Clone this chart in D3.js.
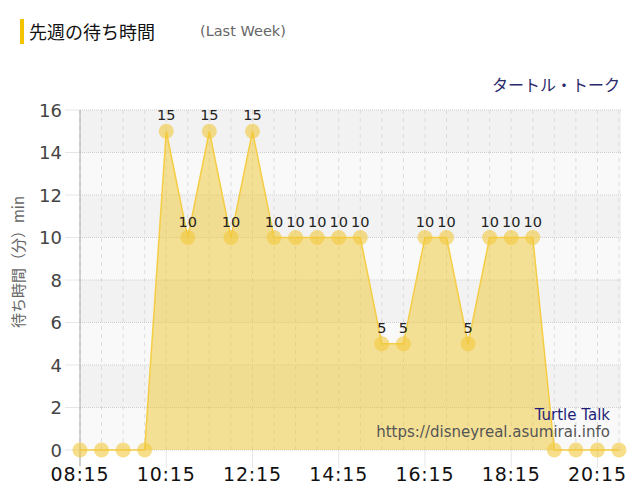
<!DOCTYPE html>
<html><head><meta charset="utf-8">
<script src="https://cdn.jsdelivr.net/npm/d3@7"></script>
<style>body{margin:0;background:#fff}svg{display:block}</style>
</head><body>
<svg id="c" width="640" height="500"></svg>
<script>
const times = ["08:15","08:45","09:15","09:45","10:15","10:45","11:15","11:45","12:15","12:45","13:15","13:45","14:15","14:45","15:15","15:45","16:15","16:45","17:15","17:45","18:15","18:45","19:15","19:45","20:15","20:45"];
const waits = [0,0,0,0,15,10,15,10,15,10,10,10,10,10,5,5,10,10,5,10,10,10,0,0,0,0];
const xTickLabels = ["08:15","10:15","12:15","14:15","16:15","18:15","20:15"];
const yTicks = [0,2,4,6,8,10,12,14,16];
const title = "先週の待ち時間";
const subtitle = "(Last Week)";
const attraction = "タートル・トーク";
const attractionEn = "Turtle Talk";
const site = "https://disneyreal.asumirai.info";
const yTitle = "待ち時間（分）min";

const toMin = t => { const [h,m] = t.split(":").map(Number); return h*60+m; };
const svg = d3.select("#c");
const L = 80, R = 619, T = 110, B = 450;
const x = d3.scaleLinear().domain([toMin(times[0]), toMin(times[times.length-1])]).range([L, R]);
const y = d3.scaleLinear().domain([0,16]).range([B, T]);

// bands
const g = svg.append("g");
for (let i = 0; i < yTicks.length-1; i++) {
  const v0 = yTicks[i], v1 = yTicks[i+1];
  g.append("rect").attr("x", L).attr("width", R + 2 - L)
    .attr("y", y(v1)).attr("height", y(v0) - y(v1))
    .attr("fill", (i % 2 === 0) ? "#f9f9f9" : "#f2f2f2");
}
// vertical minor dashed
g.selectAll(".vm").data(times).enter().append("line")
  .attr("x1", d => x(toMin(d))).attr("x2", d => x(toMin(d)))
  .attr("y1", T).attr("y2", B)
  .attr("stroke", "#dcdcdc").attr("stroke-dasharray", "4,4");
// major x ticks
g.selectAll(".vM").data(xTickLabels).enter().append("line")
  .attr("x1", d => x(toMin(d))).attr("x2", d => x(toMin(d)))
  .attr("y1", B).attr("y2", B + 18)
  .attr("stroke", "#e6e6e6");
// horizontal grid
g.selectAll(".h").data(yTicks).enter().append("line")
  .attr("x1", L).attr("x2", R + 2)
  .attr("y1", d => y(d)).attr("y2", d => y(d))
  .attr("stroke", "#cfcfcf").attr("stroke-dasharray", "1,1");
g.selectAll(".ht").data(yTicks).enter().append("line")
  .attr("x1", L - 15).attr("x2", L)
  .attr("y1", d => y(d)).attr("y2", d => y(d))
  .attr("stroke", "#e6e6e6");
// y axis line
g.append("line").attr("x1", L).attr("x2", L).attr("y1", T).attr("y2", B + 16)
  .attr("stroke", "#aaa");

const data = times.map((t, i) => ({t: toMin(t), v: waits[i]}));
svg.append("path").datum(data)
  .attr("d", d3.area().x(d => x(d.t)).y0(B).y1(d => y(d.v)))
  .attr("fill", "rgba(240,200,50,0.5)");
svg.append("path").datum(data)
  .attr("d", d3.line().x(d => x(d.t)).y(d => y(d.v)))
  .attr("fill", "none").attr("stroke", "#f5cd45").attr("stroke-width", 1.5);
svg.selectAll(".pt").data(data).enter().append("circle")
  .attr("cx", d => x(d.t)).attr("cy", d => y(d.v)).attr("r", 7.5)
  .attr("fill", "rgba(242,200,60,0.6)");
svg.selectAll(".lbl").data(data.filter(d => d.v > 0)).enter().append("text")
  .attr("x", d => x(d.t)).attr("y", d => y(d.v) - 11)
  .attr("text-anchor", "middle").attr("font-family", "DejaVu Sans, sans-serif")
  .attr("font-size", 14.5).attr("fill", "#222").text(d => d.v);

// y labels
svg.selectAll(".yl").data(yTicks).enter().append("text")
  .attr("x", 62).attr("y", d => y(d) + 6.5).attr("text-anchor", "end")
  .attr("font-family", "DejaVu Sans, sans-serif").attr("font-size", 18)
  .attr("fill", "#444").text(d => d);
// x labels
svg.selectAll(".xl").data(xTickLabels).enter().append("text")
  .attr("x", d => x(toMin(d))).attr("y", 481).attr("text-anchor", "middle")
  .attr("font-family", "DejaVu Sans, sans-serif").attr("font-size", 19)
  .attr("letter-spacing", 0.8)
  .attr("fill", "#111").text(d => d);

// y title
svg.append("text").attr("transform", "translate(24,262) rotate(-90)")
  .attr("text-anchor", "middle").attr("font-family", "Noto Sans CJK JP, sans-serif")
  .attr("font-size", 15).attr("fill", "#666").text(yTitle);

// title
svg.append("rect").attr("x", 20).attr("y", 19).attr("width", 4).attr("height", 25).attr("fill", "#f5c400");
svg.append("text").attr("x", 29).attr("y", 39).attr("font-family", "Noto Sans CJK JP, sans-serif")
  .attr("font-size", 18).attr("fill", "#111").text(title);
svg.append("text").attr("x", 200).attr("y", 36).attr("font-family", "DejaVu Sans, sans-serif")
  .attr("font-size", 14.5).attr("fill", "#666").text(subtitle);
svg.append("text").attr("x", 620).attr("y", 91).attr("text-anchor", "end")
  .attr("font-family", "Noto Sans CJK JP, sans-serif").attr("font-size", 16)
  .attr("fill", "#2a2a6a").text(attraction);

// watermark
svg.append("text").attr("x", 610).attr("y", 420).attr("text-anchor", "end")
  .attr("font-family", "DejaVu Sans, sans-serif").attr("font-size", 15)
  .attr("fill", "#1e1e78").text(attractionEn);
svg.append("text").attr("x", 610).attr("y", 437).attr("text-anchor", "end")
  .attr("font-family", "DejaVu Sans, sans-serif").attr("font-size", 15)
  .attr("fill", "#555").text(site);
</script>
</body></html>
